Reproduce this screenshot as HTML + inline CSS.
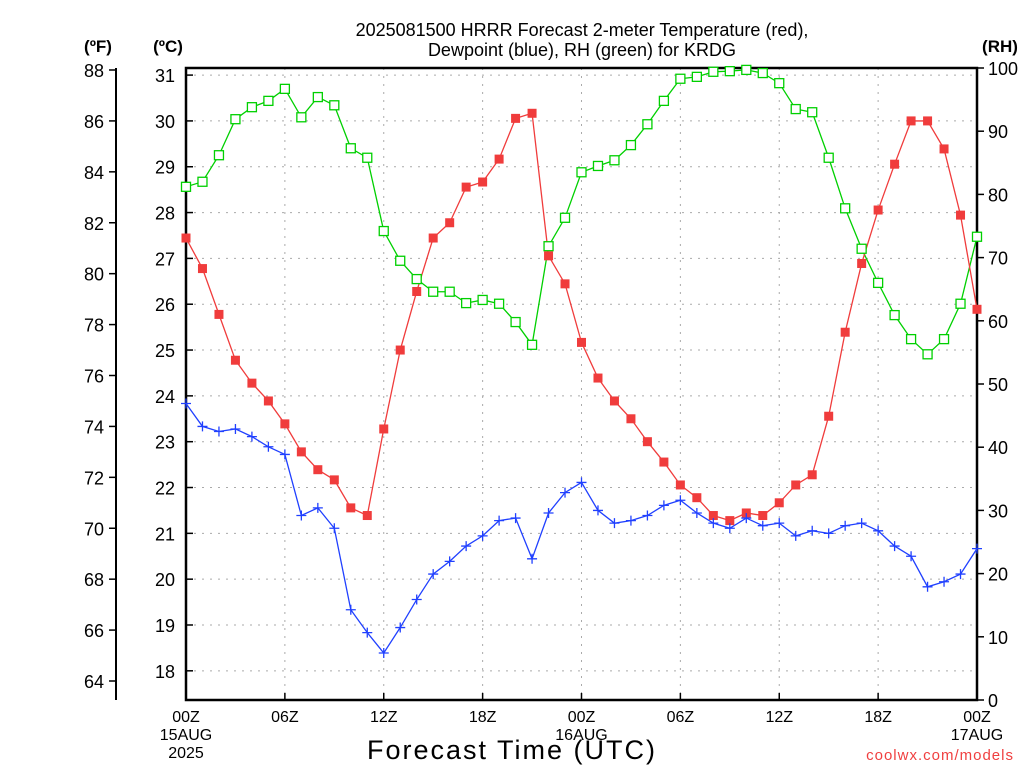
<!DOCTYPE html>
<html><head><meta charset="utf-8"><style>
body{margin:0;background:#fff;width:1024px;height:768px;overflow:hidden}
svg text{font-family:"Liberation Sans",sans-serif}
</style></head><body>
<svg id="chart" width="1024" height="768" xmlns="http://www.w3.org/2000/svg">
<g id="grid"></g>
<g id="axes"></g>
<g id="series"></g>
<text x="582" y="36" text-anchor="middle" font-size="18">2025081500 HRRR Forecast 2-meter Temperature (red),</text>
<text x="582" y="56" text-anchor="middle" font-size="18">Dewpoint (blue), RH (green) for KRDG</text>
<text x="98" y="52" text-anchor="middle" font-size="17" font-weight="bold">(ºF)</text>
<text x="168" y="52" text-anchor="middle" font-size="17" font-weight="bold">(ºC)</text>
<text x="1000" y="52" text-anchor="middle" font-size="17" font-weight="bold">(RH)</text>
<text x="512" y="759" text-anchor="middle" font-size="27" letter-spacing="2">Forecast Time (UTC)</text>
<text x="1014" y="760" text-anchor="end" font-size="15" fill="#f04040" letter-spacing="1">coolwx.com/models</text>
</svg>
<script>
const hours=[0,1,2,3,4,5,6,7,8,9,10,11,12,13,14,15,16,17,18,19,20,21,22,23,24,25,26,27,28,29,30,31,32,33,34,35,36,37,38,39,40,41,42,43,44,45,46,47,48];
const tempF=[81.4,80.2,78.4,76.6,75.7,75.0,74.1,73.0,72.3,71.9,70.8,70.5,73.9,77.0,79.3,81.4,82.0,83.4,83.6,84.5,86.1,86.3,80.7,79.6,77.3,75.9,75.0,74.3,73.4,72.6,71.7,71.2,70.5,70.3,70.6,70.5,71.0,71.7,72.1,74.4,77.7,80.4,82.5,84.3,86.0,86.0,84.9,82.3,78.6];
const dewF=[74.9,74.0,73.8,73.9,73.6,73.2,72.9,70.5,70.8,70.0,66.8,65.9,65.1,66.1,67.2,68.2,68.7,69.3,69.7,70.3,70.4,68.8,70.6,71.4,71.8,70.7,70.2,70.3,70.5,70.9,71.1,70.6,70.2,70.0,70.4,70.1,70.2,69.7,69.9,69.8,70.1,70.2,69.9,69.3,68.9,67.7,67.9,68.2,69.2];
const rh=[81.2,82.0,86.2,91.9,93.8,94.8,96.7,92.2,95.4,94.1,87.3,85.8,74.2,69.5,66.6,64.6,64.6,62.8,63.3,62.7,59.8,56.2,71.8,76.3,83.5,84.5,85.4,87.8,91.1,94.8,98.3,98.6,99.4,99.5,99.7,99.2,97.6,93.5,93.0,85.8,77.8,71.4,66.0,60.9,57.1,54.7,57.1,62.7,73.3];
const fTicks=[64,66,68,70,72,74,76,78,80,82,84,86,88];
const cTicks=[18,19,20,21,22,23,24,25,26,27,28,29,30,31];
const rhTicks=[0,10,20,30,40,50,60,70,80,90,100];
const xTickHours=[0,6,12,18,24,30,36,42,48];
const xTickLabels=["00Z","06Z","12Z","18Z","00Z","06Z","12Z","18Z","00Z"];
const xTickSub={0:["15AUG","2025"],24:["16AUG"],48:["17AUG"]};

const L=186,R=977,T=68,B=700;
const NS="http://www.w3.org/2000/svg";
const xs=h=>L+(R-L)*h/48;
const yF=f=>70+(88-f)*(611/24);
const yC=c=>yF(c*1.8+32);
const yRH=v=>B-(B-T)*v/100;
function el(p,tag,a){const e=document.createElementNS(NS,tag);for(const k in a)e.setAttribute(k,a[k]);p.appendChild(e);return e;}
const grid=document.getElementById('grid'),axes=document.getElementById('axes'),ser=document.getElementById('series');
cTicks.forEach(c=>{const g=el(grid,'line',{x1:L,x2:R,y1:yC(c),y2:yC(c),stroke:'#aaa','stroke-dasharray':'2,6'});
});
xTickHours.forEach(h=>{if(h==0||h==48)return;const g=el(grid,'line',{x1:xs(h),x2:xs(h),y1:T,y2:B,stroke:'#aaa','stroke-dasharray':'2,6'});
});
// frame
const fr=el(axes,'rect',{x:L,y:T,width:R-L,height:B-T,fill:'none',stroke:'#000','stroke-width':2.5});

const fa=el(axes,'line',{x1:116,x2:116,y1:T,y2:B,stroke:'#000','stroke-width':2});

fTicks.forEach(f=>{const y=yF(f);el(axes,'line',{x1:109,x2:116,y1:y,y2:y,stroke:'#000','stroke-width':1.5});
const t=el(axes,'text',{x:104,y:y+7,'text-anchor':'end','font-size':18});t.textContent=f;
});
cTicks.forEach(c=>{const y=yC(c);el(axes,'line',{x1:L,x2:L+7,y1:y,y2:y,stroke:'#000','stroke-width':1.5});
const t=el(axes,'text',{x:175,y:y+7,'text-anchor':'end','font-size':18});t.textContent=c;
});
rhTicks.forEach(v=>{const y=yRH(v);el(axes,'line',{x1:R,x2:R+7,y1:y,y2:y,stroke:'#000','stroke-width':1.5});
const t=el(axes,'text',{x:988,y:y+7,'font-size':18});t.textContent=v;
});
xTickHours.forEach((h,i)=>{const x=xs(h);el(axes,'line',{x1:x,x2:x,y1:B,y2:B-7,stroke:'#000','stroke-width':1.5});
const t=el(axes,'text',{x:x,y:722,'text-anchor':'middle','font-size':16});t.textContent=xTickLabels[i];

(xTickSub[h]||[]).forEach((s,j)=>{const u=el(axes,'text',{x:x,y:740+j*18,'text-anchor':'middle','font-size':16});u.textContent=s;
});});
function line(vals,yfn,col,name){
const pts=vals.map((v,i)=>xs(hours[i])+','+yfn(v)).join(' ');
const p=el(ser,'polyline',{points:pts,fill:'none',stroke:col,'stroke-width':1.3});
}
line(rh,yRH,'#00d000','rh');
line(tempF,yF,'#f03c3c','temperature');
line(dewF,yF,'#2040ff','dewpoint');
rh.forEach((v,i)=>{const m=el(ser,'rect',{x:xs(hours[i])-4.5,y:yRH(v)-4.5,width:9,height:9,fill:'#fff',stroke:'#00d000','stroke-width':1.3});
});
tempF.forEach((v,i)=>{const m=el(ser,'rect',{x:xs(hours[i])-4.5,y:yF(v)-4.5,width:9,height:9,fill:'#f03c3c'});
});
dewF.forEach((v,i)=>{const x=xs(hours[i]),y=yF(v);
const m=el(ser,'path',{d:`M${x-5},${y}H${x+5}M${x},${y-5}V${y+5}`,stroke:'#2040ff','stroke-width':1.3});
});
</script>
</body></html>
